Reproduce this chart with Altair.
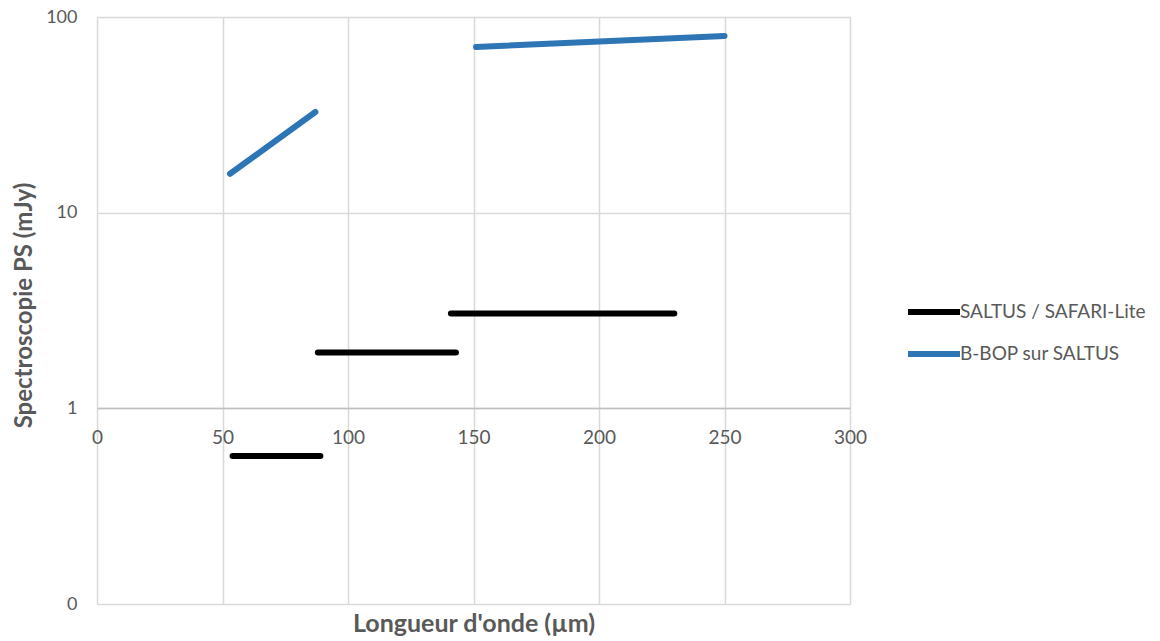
import altair as alt
import pandas as pd

# Segment data (x in µm, y in mJy)
series_names = ["SALTUS / SAFARI-Lite", "B-BOP sur SALTUS"]
seg_series = ["SALTUS / SAFARI-Lite", "SALTUS / SAFARI-Lite", "SALTUS / SAFARI-Lite",
              "B-BOP sur SALTUS", "B-BOP sur SALTUS"]
seg_x_start = [54, 88, 141, 53, 151]
seg_x_end = [89, 143, 230, 87, 250]
seg_y_start = [0.57, 1.93, 3.05, 15.8, 70.3]
seg_y_end = [0.57, 1.93, 3.05, 32.7, 80.0]

x_ticks = [0, 50, 100, 150, 200, 250, 300]
y_ticks = [0.1, 1, 10, 100]

rows = []
for i, s in enumerate(seg_series):
    rows.append({"seg": i, "series": s, "x": seg_x_start[i], "y": seg_y_start[i], "pt": 0})
    rows.append({"seg": i, "series": s, "x": seg_x_end[i], "y": seg_y_end[i], "pt": 1})
df = pd.DataFrame(rows)

FONT = "Lato"
GRAY = "#595959"
GRID = "#d9d9d9"

chart = alt.Chart(df).mark_line(strokeWidth=6, strokeCap="round").encode(
    x=alt.X("x:Q",
            scale=alt.Scale(domain=[0, 300], nice=False, zero=False),
            axis=alt.Axis(values=x_ticks, offset=-196, ticks=False, domain=True,
                          domainColor="#bfbfbf", domainWidth=1.5,
                          grid=True, gridColor=GRID, gridWidth=1.5,
                          labelFlush=False,
                          labelPadding=20, labelFontSize=19, labelColor=GRAY, labelFont=FONT,
                          title="Longueur d'onde (µm)", titleFont=FONT, titleFontSize=25,
                          titleFontWeight="bold", titleColor=GRAY,
                          titleY=215, titleBaseline="middle")),
    y=alt.Y("y:Q",
            scale=alt.Scale(type="log", domain=[0.1, 100], nice=False),
            axis=alt.Axis(values=y_ticks, ticks=False, domain=False,
                          grid=True, gridColor=GRID, gridWidth=1.5,
                          labelExpr="datum.value < 1 ? '0' : format(datum.value, 'd')",
                          labelPadding=20, labelFontSize=18, labelColor=GRAY, labelFont=FONT,
                          title="Spectroscopie PS (mJy)", titleFont=FONT, titleFontSize=24,
                          titleFontWeight="bold", titleColor=GRAY,
                          titleX=-73, titleY=288, titleBaseline="middle")),
    color=alt.Color("series:N",
                    scale=alt.Scale(domain=series_names, range=["#000000", "#2E75B6"]),
                    legend=alt.Legend(title=None, orient="none", legendX=814, legendY=272,
                                      symbolType="M-1.3,0H1.3", symbolSize=1600,
                                      symbolStrokeWidth=6, rowPadding=7, padding=0,
                                      labelOffset=3, labelFontSize=19, labelColor=GRAY,
                                      labelFont=FONT, labelLimit=0)),
    detail="seg:N",
    order="pt:O",
).properties(
    width=753, height=587,
    autosize=alt.AutoSizeParams(type="none"),
    padding={"left": 89, "top": 9, "right": 302, "bottom": 40},
).configure_view(stroke=None)

chart.save("out.html", embed_options={"renderer": "svg", "actions": False})
